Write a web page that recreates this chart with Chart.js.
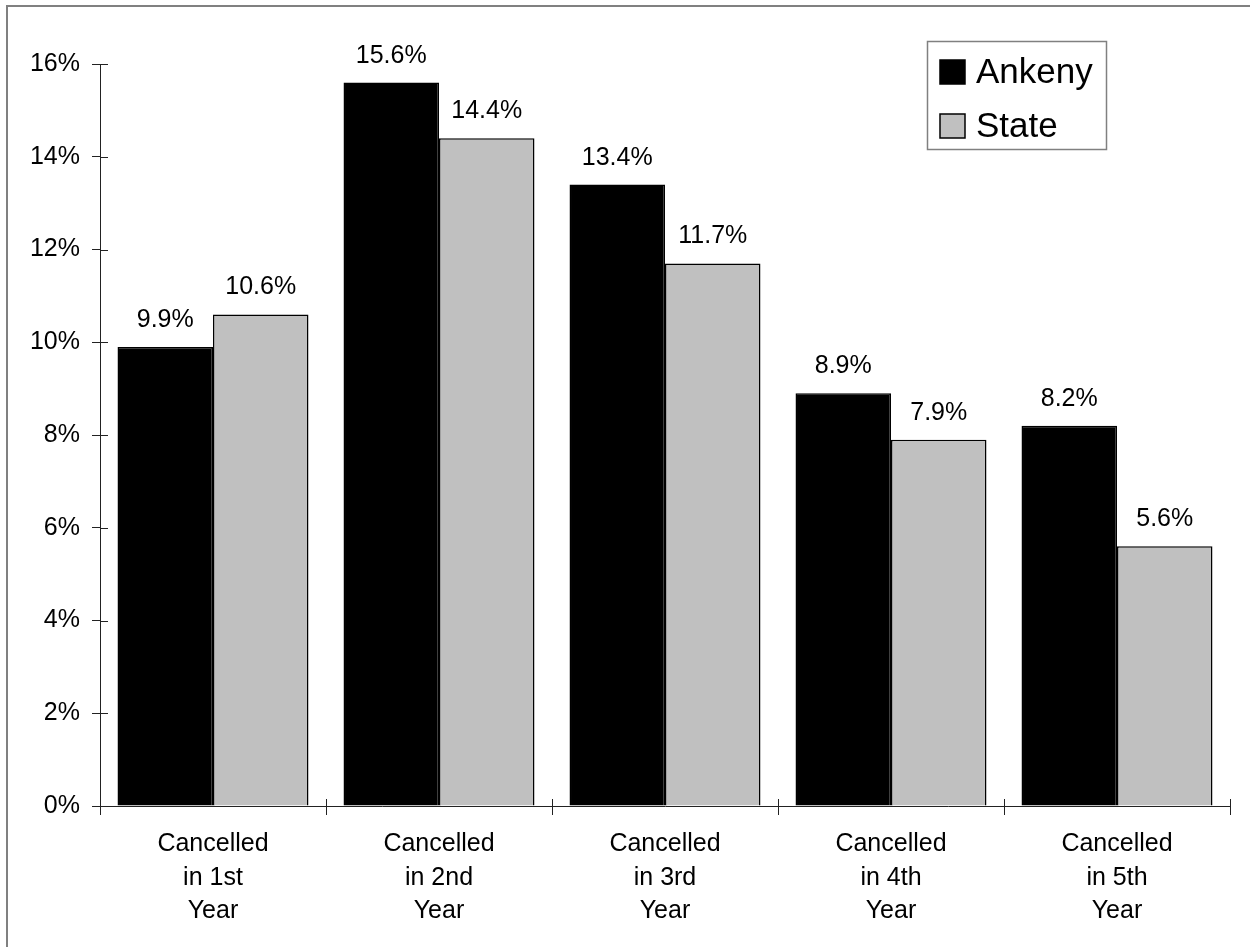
<!DOCTYPE html>
<html>
<head>
<meta charset="utf-8">
<script src="https://cdn.jsdelivr.net/npm/chart.js@4.4.1/dist/chart.umd.min.js"></script>
<style>
html,body{margin:0;padding:0;background:#fff;}
#wrap{width:1250px;height:947px;position:relative;}
</style>
</head>
<body>
<div id="wrap"><canvas id="c"></canvas></div>
<script>
const categories = [
  ["Cancelled","in 1st","Year"],
  ["Cancelled","in 2nd","Year"],
  ["Cancelled","in 3rd","Year"],
  ["Cancelled","in 4th","Year"],
  ["Cancelled","in 5th","Year"]
];
const seriesNames = ["Ankeny", "State"];
const ankeny = [9.9, 15.6, 13.4, 8.9, 8.2];
const state = [10.6, 14.4, 11.7, 7.9, 5.6];
const yTicks = [0, 2, 4, 6, 8, 10, 12, 14, 16];

const FONT = "'Liberation Sans', Arial, Helvetica, sans-serif";

const framePlugin = {
  id: 'frame',
  beforeDraw(chart) {
    const ctx = chart.ctx;
    ctx.save();
    ctx.fillStyle = '#fff';
    ctx.fillRect(0, 0, chart.width, chart.height);
    ctx.strokeStyle = '#808080';
    ctx.lineWidth = 2;
    ctx.strokeRect(7, 6, chart.width + 10, chart.height + 10);
    ctx.restore();
  }
};

const innerTicks = {
  id: 'innerTicks',
  afterDraw(chart) {
    const ctx = chart.ctx;
    const y = chart.scales.y, x = chart.scales.x;
    ctx.save();
    ctx.strokeStyle = '#222';
    ctx.lineWidth = 1;
    ctx.beginPath();
    yTicks.forEach(v => {
      const py = Math.round(y.getPixelForValue(v)) + 0.5;
      ctx.moveTo(x.left, py);
      ctx.lineTo(x.left + 8, py);
    });
    const n = categories.length;
    for (let i = 0; i <= n; i++) {
      const px = Math.round(x.left + (x.right - x.left) * i / n) + 0.5;
      ctx.moveTo(px, y.bottom);
      ctx.lineTo(px, y.bottom - 7);
    }
    ctx.stroke();
    ctx.restore();
  }
};

const valueLabels = {
  id: 'valueLabels',
  afterDatasetsDraw(chart) {
    const ctx = chart.ctx;
    ctx.save();
    ctx.font = '25px ' + FONT;
    ctx.fillStyle = '#000';
    ctx.textAlign = 'center';
    ctx.textBaseline = 'alphabetic';
    chart.data.datasets.forEach((ds, di) => {
      const meta = chart.getDatasetMeta(di);
      meta.data.forEach((bar, i) => {
        ctx.fillText(ds.data[i].toFixed(1) + '%', bar.x, bar.y - 20);
      });
    });
    ctx.restore();
  }
};

const boxLegend = {
  id: 'boxLegend',
  afterDraw(chart) {
    const ctx = chart.ctx;
    ctx.save();
    const bx = 927, by = 41, bw = 179, bh = 108;
    ctx.fillStyle = '#fff';
    ctx.fillRect(bx, by, bw, bh);
    ctx.strokeStyle = '#808080';
    ctx.lineWidth = 1.5;
    ctx.strokeRect(bx + 0.5, by + 0.5, bw, bh);
    ctx.font = '35px ' + FONT;
    ctx.textBaseline = 'alphabetic';
    chart.data.datasets.forEach((ds, i) => {
      const sy = 60 + i * 54;
      ctx.fillStyle = ds.backgroundColor;
      ctx.fillRect(940, sy, 25, 24);
      ctx.strokeStyle = '#000';
      ctx.lineWidth = 1.5;
      ctx.strokeRect(940, sy, 25, 24);
      ctx.fillStyle = '#000';
      ctx.fillText(ds.label, 976, sy + 23);
    });
    ctx.restore();
  }
};

new Chart(document.getElementById('c'), {
  type: 'bar',
  data: {
    labels: categories,
    datasets: [
      { label: seriesNames[0], data: ankeny, backgroundColor: '#000000', borderColor: '#000', borderWidth: 1.5 },
      { label: seriesNames[1], data: state, backgroundColor: '#c0c0c0', borderColor: '#000', borderWidth: 1.5 }
    ]
  },
  options: {
    responsive: true,
    maintainAspectRatio: false,
    devicePixelRatio: 1,
    animation: false,
    layout: { padding: { top: 64, right: 20, bottom: 0, left: 0 } },
    datasets: { bar: { categoryPercentage: 0.845, barPercentage: 1.0, borderSkipped: 'bottom' } },
    plugins: { legend: { display: false }, tooltip: { enabled: false } },
    scales: {
      x: {
        grid: { display: true, drawOnChartArea: false, drawTicks: true, tickLength: 9, color: '#222', offset: true },
        border: { display: true, color: '#222', width: 1 },
        ticks: { color: '#000', font: { family: FONT, size: 25, lineHeight: 1.35 }, padding: 12, maxRotation: 0, autoSkip: false },
        afterFit(s) { s.height = 141; }
      },
      y: {
        min: 0, max: 16,
        afterBuildTicks(s) { s.ticks = yTicks.map(v => ({ value: v })); },
        grid: { display: true, drawOnChartArea: false, drawTicks: true, tickLength: 8, color: '#222' },
        border: { display: true, color: '#222', width: 1 },
        ticks: { color: '#000', font: { family: FONT, size: 25 }, padding: 12, callback: v => v + '%' },
        afterFit(s) { s.width = 100; }
      }
    }
  },
  plugins: [framePlugin, innerTicks, valueLabels, boxLegend]
});
</script>
</body>
</html>
